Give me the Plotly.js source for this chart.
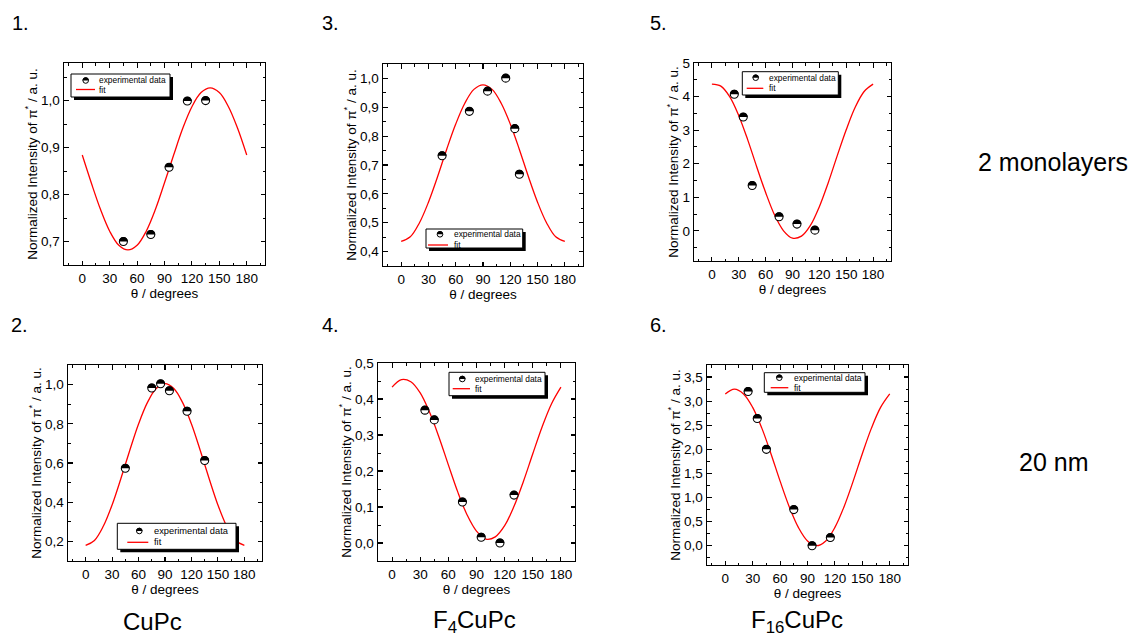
<!DOCTYPE html>
<html><head><meta charset="utf-8">
<script src="https://cdn.plot.ly/plotly-3.0.1.min.js"></script>
<style>html,body{margin:0;padding:0;background:#fff;} #chart{width:1134px;height:641px;}</style>
</head><body><div id="chart"></div>
<script>
// ---------- data ----------
const fitAngle = [0, 10, 20, 30, 40, 50, 60, 70, 80, 90, 100, 110, 120, 130, 140, 150, 160, 170, 180];

// 1. CuPc, 2 monolayers
const p1Angle = [45, 75, 95, 115, 135];
const p1Intensity = [0.700, 0.715, 0.858, 0.999, 1.000];
const p1Fit = [0.884, 0.824, 0.768, 0.722, 0.692, 0.682, 0.692, 0.722, 0.768, 0.825, 0.884, 0.941, 0.987, 1.017, 1.027, 1.017, 0.987, 0.941, 0.884];

// 2. CuPc, 20 nm
const p2Angle = [45, 75, 85, 95, 115, 135];
const p2Intensity = [0.573, 0.983, 1.004, 0.969, 0.864, 0.613];
const p2Fit = [0.180, 0.205, 0.277, 0.386, 0.521, 0.664, 0.799, 0.908, 0.980, 1.005, 0.980, 0.908, 0.799, 0.664, 0.521, 0.386, 0.277, 0.205, 0.180];

// 3. F4CuPc, 2 monolayers
const p3Angle = [45, 75, 95, 115, 125, 130];
const p3Intensity = [0.732, 0.886, 0.956, 1.001, 0.826, 0.668];
const p3Fit = [0.435, 0.451, 0.499, 0.571, 0.659, 0.754, 0.842, 0.914, 0.962, 0.978, 0.962, 0.914, 0.842, 0.754, 0.659, 0.571, 0.499, 0.451, 0.435];

// 4. F4CuPc, 20 nm
const p4Angle = [35, 45, 75, 95, 115, 130];
const p4Intensity = [0.369, 0.342, 0.114, 0.016, 0.000, 0.133];
const p4Fit = [0.433, 0.454, 0.448, 0.417, 0.363, 0.294, 0.217, 0.142, 0.078, 0.033, 0.011, 0.017, 0.048, 0.102, 0.171, 0.248, 0.323, 0.387, 0.433];

// 5. F16CuPc, 2 monolayers
const p5Angle = [25, 35, 45, 75, 95, 115];
const p5Intensity = [4.07, 3.39, 1.35, 0.42, 0.20, 0.02];
const p5Fit = [4.37, 4.31, 3.99, 3.43, 2.71, 1.91, 1.14, 0.47, 0.00, -0.22, -0.16, 0.16, 0.72, 1.44, 2.24, 3.01, 3.68, 4.15, 4.37];

// 6. F16CuPc, 20 nm
const p6Angle = [25, 35, 45, 75, 95, 115];
const p6Intensity = [3.20, 2.64, 2.00, 0.75, 0.00, 0.17];
const p6Fit = [3.15, 3.25, 3.15, 2.87, 2.44, 1.91, 1.34, 0.81, 0.38, 0.10, 0.00, 0.10, 0.38, 0.81, 1.34, 1.91, 2.44, 2.87, 3.15];

const xTickLabels = ['0', '30', '60', '90', '120', '150', '180'];
const xTickVals = [0, 30, 60, 90, 120, 150, 180];
const legendTexts = ['experimental data', 'fit'];
const panelLabels = ['1.', '2.', '3.', '4.', '5.', '6.'];
const rowLabels = ['2 monolayers', '20 nm'];
const compoundLabels = ['CuPc', 'F<sub>4</sub>CuPc', 'F<sub>16</sub>CuPc'];
const xTitle = 'θ / degrees';
const yTitle = 'Normalized Intensity of π<sup>*</sup> / a. u.';

// ---------- layout geometry (pixels) ----------
const W = 1134, H = 641;
const FONT = 'Liberation Sans, Arial, sans-serif';
const px = v => v / W;
const py = v => 1 - v / H;

const panels = [
  {angle: p1Angle, inten: p1Intensity, fit: p1Fit, box: [64, 63, 265, 265], xr: [-20, 200], yr: [0.65, 1.08], dt: 0.1, mdt: 0.05, fmt: '.1f',
   leg: {box: [71, 74, 170, 97], sym: [85.7, 80.5], tx: 96.5, line: [76, 95, 89.5], fs: 8.4}},
  {angle: p2Angle, inten: p2Intensity, fit: p2Fit, box: [68, 365, 262, 561], xr: [-20, 200], yr: [0.1, 1.1], dt: 0.2, mdt: 0.1, fmt: '.1f',
   leg: {box: [117.3, 523.3, 236, 549.3], sym: [139.3, 531], tx: 151.5, line: [127.3, 148.3, 542.3], fs: 9.3}},
  {angle: p3Angle, inten: p3Intensity, fit: p3Fit, box: [383, 64, 583, 266], xr: [-20, 200], yr: [0.35, 1.05], dt: 0.1, mdt: 0.05, fmt: '.1f',
   leg: {box: [426, 229, 522.7, 248], sym: [440, 234.3], tx: 451.5, line: [428, 448, 245], fs: 8.4}},
  {angle: p4Angle, inten: p4Intensity, fit: p4Fit, box: [378, 363, 575, 561], xr: [-15, 195], yr: [-0.05, 0.5], dt: 0.1, mdt: 0.05, fmt: '.1f',
   leg: {box: [449, 372.3, 545, 395.7], sym: [462.3, 379], tx: 472.5, line: [452.7, 470, 388.7], fs: 8.4}},
  {angle: p5Angle, inten: p5Intensity, fit: p5Fit, box: [694, 63, 891, 261], xr: [-20, 200], yr: [-0.9, 5], dt: 1, mdt: 0.5, fmt: 'd',
   leg: {box: [742.3, 71.7, 838.3, 95], sym: [755.7, 77.7], tx: 766.5, line: [746.7, 763.3, 88.3], fs: 8.4}},
  {angle: p6Angle, inten: p6Intensity, fit: p6Fit, box: [707, 365, 908, 565], xr: [-20, 200], yr: [-0.4, 3.75], dt: 0.5, mdt: 0.25, fmt: '.1f',
   leg: {box: [764.3, 372.7, 865, 392.3], sym: [779.3, 377.7], tx: 791.5, line: [770.7, 788.3, 387.7], fs: 8.5}}
];

function halfDisc(r) {
  const k = 0.5523 * r;
  return `M ${-r} 0 C ${-r} ${k} ${-k} ${r} 0 ${r} C ${k} ${r} ${r} ${k} ${r} 0 Z`;
}

const traces = [];
const shapes = [];
const annotations = [];
const layout = {
  width: W, height: H, margin: {l: 0, r: 0, t: 0, b: 0},
  paper_bgcolor: '#fff', plot_bgcolor: '#fff', showlegend: false,
  separators: ', ', font: {family: FONT, color: '#000'}
};

panels.forEach((p, i) => {
  const n = i + 1;
  const xa = n === 1 ? 'x' : 'x' + n;
  const ya = n === 1 ? 'y' : 'y' + n;
  const axCommon = {
    showline: true, linecolor: '#000', linewidth: 1.4, mirror: 'ticks',
    ticks: 'inside', ticklen: 4.5, tickwidth: 1.1, tickcolor: '#000',
    showgrid: false, zeroline: false, fixedrange: true,
    tickfont: {family: FONT, size: 13.5, color: '#000'}
  };
  layout['xaxis' + (n === 1 ? '' : n)] = Object.assign({}, axCommon, {
    domain: [px(p.box[0]), px(p.box[2])], range: p.xr, anchor: ya,
    tickmode: 'array', tickvals: xTickVals, ticktext: xTickLabels,
    minor: {ticks: 'inside', ticklen: 2.5, tickwidth: 1, tickcolor: '#000', dtick: 15, tick0: 0},
    title: {text: xTitle, font: {family: FONT, size: 13.5, color: '#000'}, standoff: 0}
  });
  layout['yaxis' + (n === 1 ? '' : n)] = Object.assign({}, axCommon, {
    domain: [py(p.box[3]), py(p.box[1])], range: p.yr, anchor: xa,
    dtick: p.dt, tick0: 0, tickformat: p.fmt,
    minor: {ticks: 'inside', ticklen: 2.5, tickwidth: 1, tickcolor: '#000', dtick: p.mdt, tick0: 0},
    title: {text: yTitle, font: {family: FONT, size: 13.5, color: '#000'}, standoff: 0}
  });

  traces.push({
    x: fitAngle, y: p.fit, xaxis: xa, yaxis: ya, mode: 'lines', name: legendTexts[1],
    line: {color: '#ff0000', width: 1.3, shape: 'spline', smoothing: 1}, hoverinfo: 'skip'
  });
  traces.push({
    x: p.angle, y: p.inten, xaxis: xa, yaxis: ya, mode: 'markers', name: legendTexts[0],
    marker: {symbol: 'circle', size: 8, color: '#fff', line: {color: '#000', width: 1.1}}
  });
  p.angle.forEach((a, j) => {
    shapes.push({type: 'path', xref: xa, yref: ya, xsizemode: 'pixel', ysizemode: 'pixel',
      xanchor: a, yanchor: p.inten[j], path: halfDisc(4.4), fillcolor: '#000',
      line: {width: 0}, layer: 'above'});
  });

  // legend box with drop shadow
  const L = p.leg;
  const b = L.box;
  shapes.push({type: 'rect', xref: 'paper', yref: 'paper', x0: px(b[0] + 3), x1: px(b[2] + 3), y0: py(b[3] + 3), y1: py(b[1] + 3),
    fillcolor: '#000', line: {width: 0}, layer: 'above'});
  shapes.push({type: 'rect', xref: 'paper', yref: 'paper', x0: px(b[0]), x1: px(b[2]), y0: py(b[3]), y1: py(b[1]),
    fillcolor: '#fff', line: {color: '#000', width: 1}, layer: 'above'});
  shapes.push({type: 'circle', xref: 'paper', yref: 'paper', xsizemode: 'pixel', ysizemode: 'pixel',
    xanchor: px(L.sym[0]), yanchor: py(L.sym[1]), x0: -2.8, x1: 2.8, y0: -2.8, y1: 2.8,
    fillcolor: '#fff', line: {color: '#000', width: 1}, layer: 'above'});
  shapes.push({type: 'path', xref: 'paper', yref: 'paper', xsizemode: 'pixel', ysizemode: 'pixel',
    xanchor: px(L.sym[0]), yanchor: py(L.sym[1]), path: halfDisc(3.2), fillcolor: '#000',
    line: {width: 0}, layer: 'above'});
  shapes.push({type: 'line', xref: 'paper', yref: 'paper', x0: px(L.line[0]), x1: px(L.line[1]), y0: py(L.line[2]), y1: py(L.line[2]),
    line: {color: '#ff0000', width: 1.3}, layer: 'above'});
  annotations.push({xref: 'paper', yref: 'paper', x: px(L.tx), y: py(L.sym[1]), xanchor: 'left', yanchor: 'middle',
    text: legendTexts[0], showarrow: false, font: {family: FONT, size: L.fs, color: '#000'}});
  annotations.push({xref: 'paper', yref: 'paper', x: px(L.tx), y: py(L.line[2]), xanchor: 'left', yanchor: 'middle',
    text: legendTexts[1], showarrow: false, font: {family: FONT, size: L.fs, color: '#000'}});
});

// panel numbers
const labelPos = [[10, 23], [9, 325], [320, 23], [320, 325], [648, 23], [648, 325]];
panelLabels.forEach((t, i) => {
  annotations.push({xref: 'paper', yref: 'paper', x: px(labelPos[i][0]), y: py(labelPos[i][1]),
    xanchor: 'left', yanchor: 'middle', text: t, showarrow: false, font: {family: FONT, size: 20, color: '#000'}});
});
// row labels
[[1053, 162], [1053, 462]].forEach((pos, i) => {
  annotations.push({xref: 'paper', yref: 'paper', x: px(pos[0]), y: py(pos[1]), xanchor: 'center', yanchor: 'middle',
    text: rowLabels[i], showarrow: false, font: {family: FONT, size: 25, color: '#000'}});
});
// compound labels
[[152, 621], [474, 621], [797, 621]].forEach((pos, i) => {
  annotations.push({xref: 'paper', yref: 'paper', x: px(pos[0]), y: py(pos[1]), xanchor: 'center', yanchor: 'middle',
    text: compoundLabels[i], showarrow: false, font: {family: FONT, size: 24, color: '#000'}});
});

layout.shapes = shapes;
layout.annotations = annotations;
Plotly.newPlot('chart', traces, layout, {staticPlot: true, displayModeBar: false});
</script>
</body></html>
